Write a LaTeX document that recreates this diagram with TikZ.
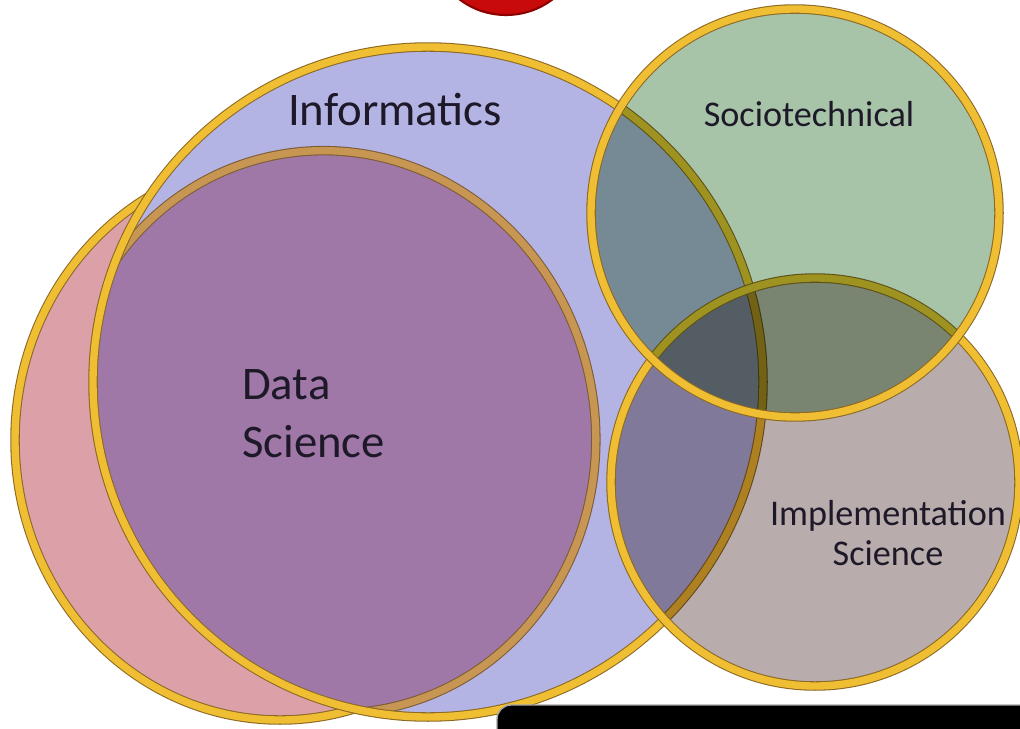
\documentclass[tikz,border=0pt]{standalone}
\usepackage{fontspec}
\setmainfont{Carlito}
\usetikzlibrary{positioning}
\definecolor{pinkfill}{RGB}{220, 160, 168}
\definecolor{inffill}{RGB}{180, 180, 228}
\definecolor{dsfill}{RGB}{160, 120, 168}
\definecolor{socfill}{RGB}{168, 196, 168}
\definecolor{impfill}{RGB}{184, 172, 172}
\definecolor{ringgold}{RGB}{240, 190, 50}
\definecolor{ringedge}{RGB}{140, 105, 35}
\definecolor{dsring}{RGB}{198, 150, 82}
\definecolor{dsedge}{RGB}{125, 92, 52}
\definecolor{redtop}{RGB}{200, 10, 10}
\definecolor{rededge}{RGB}{140, 0, 0}
\definecolor{labeltext}{RGB}{30, 25, 40}
\tikzset{
	ring/.style = {draw = ringedge, line width = 0.6pt, double = ringgold, double distance = 4.2pt},
	dsringline/.style = {draw = dsedge, line width = 0.6pt, double = dsring, double distance = 4.2pt},
	biglabel/.style = {text = labeltext, font = \fontsize{26.6}{33}\selectfont},
	smalllabel/.style = {text = labeltext, font = \fontsize{20.6}{22.7}\selectfont}
}

\begin{document}
\begin{tikzpicture}[x = 0.02cm, y = 0.02cm]
	\useasboundingbox (0,0) rectangle (1020,728);
	\fill[white] (0,0) rectangle (1020,728);
	\fill[pinkfill] (280,288) ellipse [x radius = 265, y radius = 280];
	\draw[ring] (280,288) ellipse [x radius = 265, y radius = 280];
	\fill[inffill] (428,346) circle [radius = 335];
	\begin{scope}
		\clip (428,346) circle [radius = 335];
		\fill[dsfill] (330,296) ellipse [x radius = 265, y radius = 282, rotate = 12];
		\draw[dsringline] (330,296) ellipse [x radius = 265, y radius = 282, rotate = 12];
	\end{scope}
	\draw[ring] (428,346) circle [radius = 335];
	\begin{scope}[blend mode = multiply]
		\fill[impfill] (815,246) circle [radius = 204];
	\end{scope}
	\draw[ring] (815,246) circle [radius = 204];
	\begin{scope}[blend mode = multiply]
		\fill[socfill] (795,515) circle [radius = 204];
	\end{scope}
	\draw[ring] (795,515) circle [radius = 204];
	\node (inf) at (395,618) [biglabel] {Informatics};
	\node (ds) at (236,314) [biglabel, anchor = west, align = left] {Data\\Science};
	\node (soc) at (809,614) [smalllabel] {Sociotechnical};
	\node (imp) at (888,195) [smalllabel, align = center] {Implementation\\Science};
	\draw[fill = redtop, draw = rededge, line width = 1.2pt] (506,790) circle [radius = 77];
	\draw[fill = black, draw = gray!70, line width = 0.8pt, rounded corners = 8] (497,-30) rectangle (1050,23);
\end{tikzpicture}
\end{document}
